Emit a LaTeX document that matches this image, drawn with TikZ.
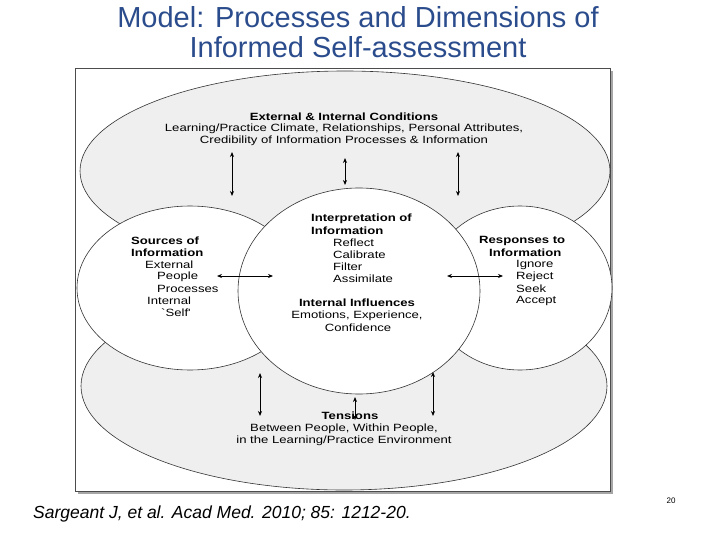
\documentclass[tikz,border=0pt]{standalone}
\usepackage{fontspec}
\setmainfont{Liberation Sans}
\newfontfamily\widefont[FakeStretch=1.25]{Liberation Sans}
\usetikzlibrary{arrows.meta}
\definecolor{titleblue}{HTML}{2B4C8C}
\definecolor{gfill}{HTML}{EFEFEF}
\begin{document}
\begin{tikzpicture}[x=1pt,y=-1pt,
  ell/.style={draw=black!80,line width=0.6pt},
  dbl/.style={{Stealth[length=5pt,width=4pt]}-{Stealth[length=5pt,width=4pt]},line width=0.8pt},
  small/.style={font=\widefont\fontsize{10.5}{12}\selectfont,inner sep=0pt},
  head/.style={font=\widefont\fontsize{10.5}{12}\selectfont\bfseries,inner sep=0pt}]
\useasboundingbox (0,0) rectangle (720,540);
\node[font=\fontsize{29}{30}\selectfont,text=titleblue,align=center] (title) at (358,32) {Model: Processes and Dimensions of\\Informed Self-assessment};
\fill[black!35] (78,71) rectangle (613,494);
\node[draw=black!70,fill=white,minimum width=535pt,minimum height=423pt,anchor=north west,inner sep=0pt] (frame) at (75,68) {};
\draw[ell,fill=gfill] (345,171) ellipse [x radius=265,y radius=100];
\draw[ell,fill=gfill] (344,386) ellipse [x radius=263,y radius=104];
\draw[ell,fill=white] (190,288) ellipse [x radius=113,y radius=82];
\draw[ell,fill=white] (520,288) ellipse [x radius=92,y radius=82];
\draw[ell,fill=white] (359,291) ellipse [x radius=121,y radius=103];
% arrows
\coordinate (a1) at (232,152); \coordinate (b1) at (232,196);
\coordinate (a2) at (345,158); \coordinate (b2) at (345,185);
\coordinate (a3) at (458,152); \coordinate (b3) at (458,196);
\coordinate (c1) at (260,373); \coordinate (d1) at (260,416);
\coordinate (c2) at (355,397); \coordinate (d2) at (355,420);
\coordinate (c3) at (433,372); \coordinate (d3) at (433,416);
\coordinate (l1) at (217,276); \coordinate (l2) at (273,276);
\coordinate (r1) at (447,276); \coordinate (r2) at (503,276);
\foreach \p/\q in {a1/b1,a2/b2,a3/b3,c1/d1,c2/d2,c3/d3,l1/l2,r1/r2} \draw[dbl] (\p) -- (\q);
% texts
\node[head] (t1) at (344,117) {External \& Internal Conditions};
\node[small] (t2) at (344,129) {Learning/Practice Climate, Relationships, Personal Attributes,};
\node[small] (t3) at (344,141) {Credibility of Information Processes \& Information};
\node[head,anchor=west] (c0) at (311,219) {Interpretation of};
\node[head,anchor=west] (c0b) at (311,231) {Information};
\foreach \t [count=\i] in {Reflect,Calibrate,Filter,Assimilate}
  \node[small,anchor=west] (ci\i) at (333,231+12*\i) {\t};
\node[head] (ii) at (357,303) {Internal Influences};
\node[small] (ii2) at (357,316) {Emotions, Experience,};
\node[small] (ii3) at (358,328) {Confidence};
\node[head,anchor=west] (s0) at (131,241) {Sources of};
\node[head,anchor=west] (s0b) at (131,253) {Information};
\node[small,anchor=west] (s1) at (145,265) {External};
\node[small,anchor=west] (s2) at (157,277) {People};
\node[small,anchor=west] (s3) at (157,289) {Processes};
\node[small,anchor=west] (s4) at (147,301) {Internal};
\node[small,anchor=west] (s5) at (161,313) {`Self'};
\node[head,anchor=west] (r0) at (479,241) {Responses to};
\node[head,anchor=west] (r0b) at (489,253) {Information};
\foreach \t [count=\i] in {Ignore,Reject,Seek,Accept}
  \node[small,anchor=west] (ri\i) at (516,253+12*\i) {\t};
\node[head] (te) at (350,416) {Tensions};
\node[small] (te2) at (344,429) {Between People, Within People,};
\node[small] (te3) at (344,441) {in the Learning/Practice Environment};
\node[font=\fontsize{17.5}{20}\selectfont\itshape,anchor=west,inner sep=0pt] (cite) at (33,514) {Sargeant J, et al. Acad Med. 2010; 85: 1212-20.};
\node[font=\fontsize{8}{10}\selectfont,inner sep=0pt] (pg) at (671,501) {20};
\end{tikzpicture}
\end{document}
